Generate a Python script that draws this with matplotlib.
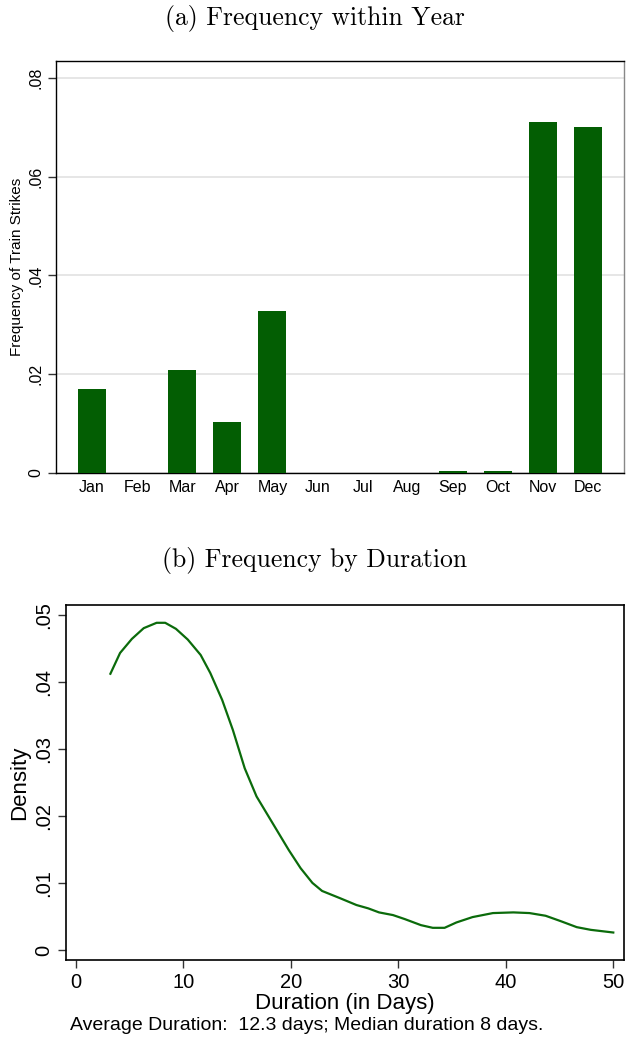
import numpy as np
import matplotlib
matplotlib.use('Agg')
import matplotlib.pyplot as plt
from matplotlib.ticker import FuncFormatter

# panel (a): share of train strikes by month
months = ['Jan', 'Feb', 'Mar', 'Apr', 'May', 'Jun', 'Jul', 'Aug', 'Sep', 'Oct', 'Nov', 'Dec']
month_freq = [0.0170, 0.0, 0.0209, 0.0103, 0.0327, 0.0, 0.0, 0.0, 0.0004, 0.0004, 0.0710, 0.0701]

# panel (b): kernel density of strike duration
dur_days = [3.2, 4.1, 5.2, 6.3, 7.5, 8.3, 9.3, 10.4, 11.6, 12.5, 13.6, 14.6, 15.7, 16.8,
            18.3, 19.8, 20.9, 22.0, 22.9, 24.6, 26.1, 27.2, 28.2, 29.5, 30.6, 32.1,
            33.2, 34.3, 35.4, 36.9, 38.8, 40.7, 42.2, 43.7, 45.1, 46.6, 47.9, 50.0]
dur_density = [0.0412, 0.0443, 0.0464, 0.0480, 0.0488, 0.0488, 0.0479, 0.0463, 0.0440,
               0.0413, 0.0373, 0.0328, 0.0271, 0.0229, 0.0189, 0.0149, 0.0122, 0.0100,
               0.0088, 0.0077, 0.0067, 0.0062, 0.0056, 0.0052, 0.0046, 0.0037, 0.0033,
               0.0033, 0.0041, 0.0049, 0.0055, 0.0056, 0.0055, 0.0051, 0.0043, 0.0034,
               0.0030, 0.0026]

note = 'Average Duration:  12.3 days; Median duration 8 days.'

bar_col = '#035e03'
line_col = '#0b6b0b'
plt.rcParams['font.family'] = ['Liberation Sans', 'DejaVu Sans']


def stata_fmt(v, pos):
    # Stata style: 0, .02, .04 ...
    if abs(v) < 1e-12:
        return '0'
    return ('%.2f' % v).lstrip('0')


W, H = 629, 1043
fig = plt.figure(figsize=(W / 100, H / 100), dpi=100)

# ---- (a) Frequency within Year ----
ax1 = fig.add_axes([56 / W, 1 - 473 / H, (624 - 56) / W, (473 - 61) / H])
x = np.arange(1, 13)
ax1.bar(x, month_freq, width=0.62, color=bar_col, zorder=3)
ax1.set_xlim(0.2, 12.8)
ax1.set_ylim(0, 0.0834)
ax1.set_yticks([0, 0.02, 0.04, 0.06, 0.08])
ax1.yaxis.set_major_formatter(FuncFormatter(stata_fmt))
ax1.set_xticks(x)
ax1.set_xticklabels(months, fontsize=11.5)
ax1.tick_params(axis='x', length=0, pad=5)
ax1.tick_params(axis='y', length=6, width=1, labelsize=11.5, pad=3, color='#333333')
for lab in ax1.get_yticklabels():
    lab.set_rotation(90)
    lab.set_va('center')
ax1.grid(axis='y', color='#e4e4e4', lw=1.3, zorder=0)
ax1.set_ylabel('Frequency of Train Strikes', fontsize=11, labelpad=3)
ax1.spines['right'].set_color('#888888')
for s in ax1.spines.values():
    s.set_linewidth(1)
fig.text(0.5, 1 - 18 / H, '(a) Frequency within Year', ha='center', va='center',
         family='cmr10', fontsize=18.5)

# ---- (b) Frequency by Duration ----
ax2 = fig.add_axes([65.7 / W, 1 - 960 / H, (623.7 - 65.7) / W, (960 - 604.7) / H])
ax2.plot(dur_days, dur_density, color=line_col, lw=1.6)
ax2.set_xlim(-0.96, 50.97)
ax2.set_ylim(-0.0015, 0.0515)
ax2.set_xticks([0, 10, 20, 30, 40, 50])
ax2.set_yticks([0, 0.01, 0.02, 0.03, 0.04, 0.05])
ax2.yaxis.set_major_formatter(FuncFormatter(stata_fmt))
ax2.tick_params(length=6, width=1, color='#333333', pad=3, labelsize=14.5)
for lab in ax2.get_yticklabels():
    lab.set_rotation(90)
    lab.set_va('center')
ax2.set_xlabel('Duration (in Days)', fontsize=16, labelpad=1)
ax2.set_ylabel('Density', fontsize=16, labelpad=3)
for s in ax2.spines.values():
    s.set_linewidth(1.2)
fig.text(70 / W, 1 - 1025 / H, note, ha='left', va='center', fontsize=14)
fig.text(0.5, 1 - 560 / H, '(b) Frequency by Duration', ha='center', va='center',
         family='cmr10', fontsize=18.5)

fig.savefig('out.png', dpi=100, facecolor='white')
